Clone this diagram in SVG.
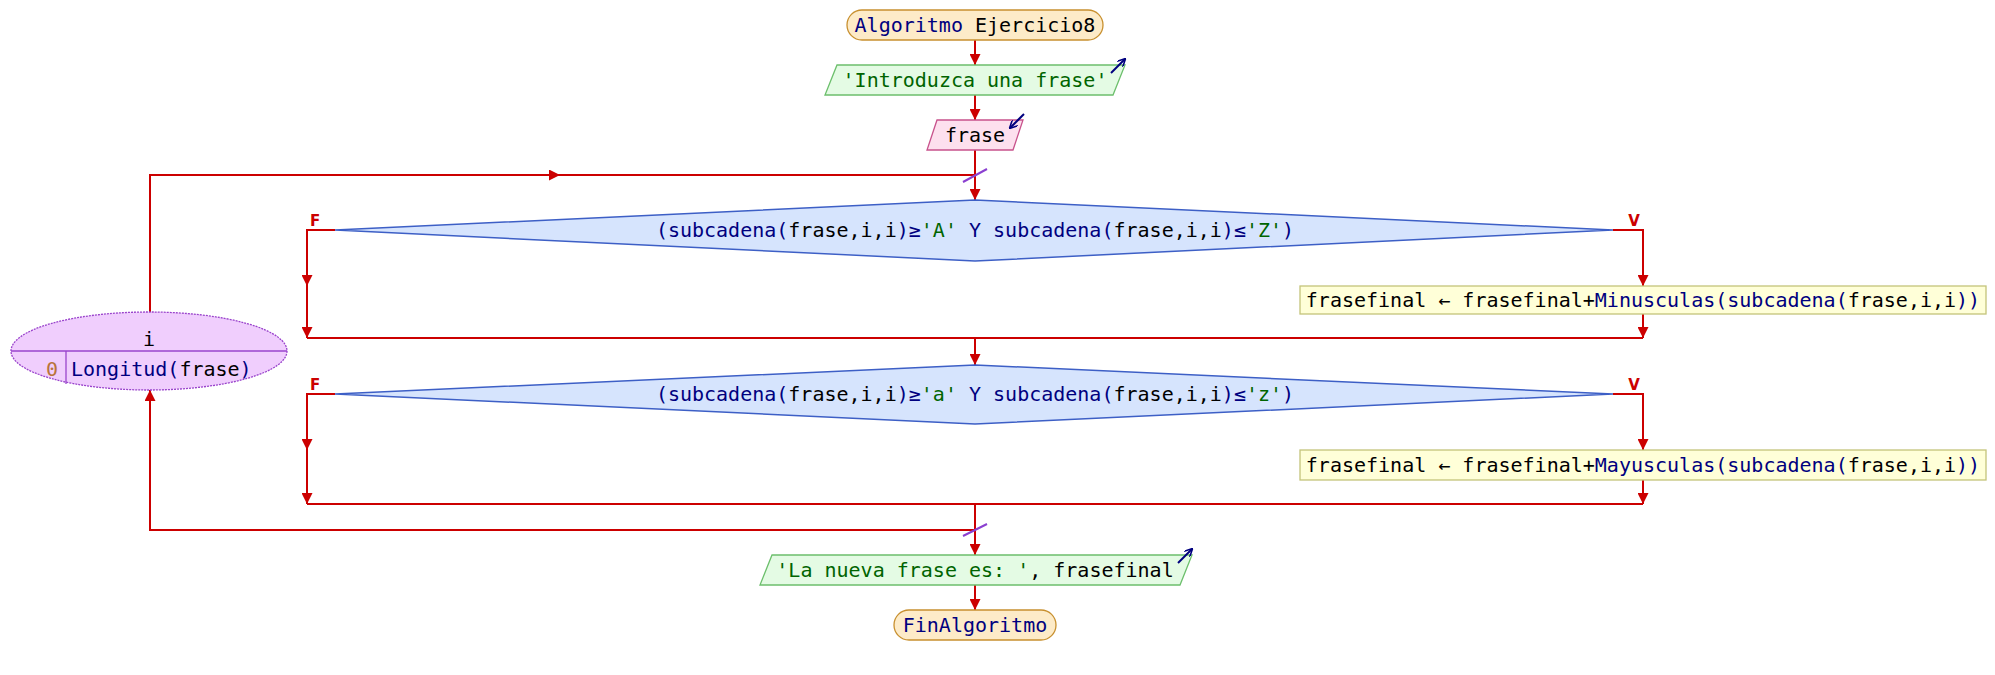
<svg xmlns="http://www.w3.org/2000/svg" width="1995" height="675" viewBox="0 0 1995 675">
<style>
text{font-family:"DejaVu Sans Mono","Liberation Mono",monospace;font-size:20px;fill:#000}
.kw{fill:#00007f}
.st{fill:#006400}
.nm{fill:#b8733a}
.lbl{font-family:"DejaVu Sans","Liberation Sans",sans-serif;font-size:15px;font-weight:bold;fill:#cc0000}
.c{fill:none;stroke:#cc0000;stroke-width:2}
.term{fill:#fdebc8;stroke:#c8902f;stroke-width:1.3}
.out{fill:#e4fbe4;stroke:#6cbf6c;stroke-width:1.3}
.inp{fill:#fde0ee;stroke:#c8528c;stroke-width:1.3}
.dia{fill:#d6e4fd;stroke:#3d5fc6;stroke-width:1.5}
.box{fill:#ffffd8;stroke:#c4c47a;stroke-width:1.3}
.loop{fill:#f0cefd;stroke:#9a44cc;stroke-width:1.3;stroke-dasharray:2 1}
.io{fill:none;stroke:#00007f;stroke-width:2}
.sl{stroke:#8a3fd0;stroke-width:2}
</style>
<defs>
<marker id="ah" viewBox="0 0 10 10" refX="10" refY="5" markerWidth="5.5" markerHeight="5.5" orient="auto" markerUnits="strokeWidth">
<path d="M0,0L10,5L0,10z" fill="#cc0000"/>
</marker>
<marker id="ih" viewBox="0 0 10 10" refX="9" refY="5" markerWidth="4" markerHeight="4" orient="auto" markerUnits="strokeWidth">
<path d="M0,0L10,5L0,10" fill="none" stroke="#00007f" stroke-width="2"/>
</marker>
</defs>
<g id="connectors">
<path class="c" d="M975,40V65" marker-end="url(#ah)"/>
<path class="c" d="M975,95V120" marker-end="url(#ah)"/>
<path class="c" d="M975,150V200" marker-end="url(#ah)"/>
<path class="c" d="M150,312V175H560" marker-end="url(#ah)"/>
<path class="c" d="M556,175H975"/>
<path class="c" d="M335,230H307V286" marker-end="url(#ah)"/>
<path class="c" d="M307,284V338" marker-end="url(#ah)"/>
<path class="c" d="M1613,230H1643V286" marker-end="url(#ah)"/>
<path class="c" d="M1643,314V338" marker-end="url(#ah)"/>
<path class="c" d="M307,338H1643"/>
<path class="c" d="M975,338V365" marker-end="url(#ah)"/>
<path class="c" d="M335,394H307V450" marker-end="url(#ah)"/>
<path class="c" d="M307,448V504" marker-end="url(#ah)"/>
<path class="c" d="M1613,394H1643V450" marker-end="url(#ah)"/>
<path class="c" d="M1643,480V504" marker-end="url(#ah)"/>
<path class="c" d="M307,504H1643"/>
<path class="c" d="M975,504V555" marker-end="url(#ah)"/>
<path class="c" d="M975,530H150V390" marker-end="url(#ah)"/>
<path class="c" d="M975,585V610" marker-end="url(#ah)"/>
<line class="sl" x1="963" y1="182" x2="987" y2="169"/>
<line class="sl" x1="963" y1="536" x2="987" y2="524"/>
<text class="lbl" x="315" y="226" text-anchor="middle">F</text>
<text class="lbl" x="1634" y="226" text-anchor="middle">V</text>
<text class="lbl" x="315" y="390" text-anchor="middle">F</text>
<text class="lbl" x="1634" y="390" text-anchor="middle">V</text>
</g>
<g id="start">
<rect class="term" x="847" y="10" width="256" height="30" rx="15"/>
<text x="975" y="32" text-anchor="middle"><tspan class="kw">Algoritmo</tspan> Ejercicio8</text>
</g>
<g id="output1">
<polygon class="out" points="837,65 1125,65 1113,95 825,95"/>
<text x="975" y="87" text-anchor="middle" class="st">'Introduzca una frase'</text>
<line class="io" x1="1111" y1="73" x2="1125" y2="59" marker-end="url(#ih)"/>
</g>
<g id="input1">
<polygon class="inp" points="937,120 1023,120 1013,150 927,150"/>
<text x="975" y="142" text-anchor="middle">frase</text>
<line class="io" x1="1024" y1="114" x2="1010" y2="128" marker-end="url(#ih)"/>
</g>
<g id="loop">
<ellipse class="loop" cx="149" cy="351" rx="138" ry="39"/>
<line x1="11" y1="351" x2="287" y2="351" stroke="#9a44cc" stroke-width="1.3"/>
<line x1="66" y1="351" x2="66" y2="384" stroke="#9a44cc" stroke-width="1.3"/>
<text x="149" y="346" text-anchor="middle">i</text>
<text x="46" y="376" class="nm">0</text>
<text x="71" y="376"><tspan class="kw">Longitud(</tspan>frase<tspan class="kw">)</tspan></text>
</g>
<g id="cond1">
<polygon class="dia" points="975,200 1613,230 975,261 335,230"/>
<text x="975" y="237" text-anchor="middle"><tspan class="kw">(subcadena(</tspan>frase,i,i<tspan class="kw">)≥</tspan><tspan class="st">'A'</tspan><tspan class="kw"> Y subcadena(</tspan>frase,i,i<tspan class="kw">)≤</tspan><tspan class="st">'Z'</tspan><tspan class="kw">)</tspan></text>
</g>
<g id="assign1">
<rect class="box" x="1300" y="286" width="686" height="28"/>
<text x="1643" y="307" text-anchor="middle">frasefinal ← frasefinal+<tspan class="kw">Minusculas(subcadena(</tspan>frase,i,i<tspan class="kw">))</tspan></text>
</g>
<g id="cond2">
<polygon class="dia" points="975,365 1613,394 975,424 335,394"/>
<text x="975" y="401" text-anchor="middle"><tspan class="kw">(subcadena(</tspan>frase,i,i<tspan class="kw">)≥</tspan><tspan class="st">'a'</tspan><tspan class="kw"> Y subcadena(</tspan>frase,i,i<tspan class="kw">)≤</tspan><tspan class="st">'z'</tspan><tspan class="kw">)</tspan></text>
</g>
<g id="assign2">
<rect class="box" x="1300" y="450" width="686" height="30"/>
<text x="1643" y="472" text-anchor="middle">frasefinal ← frasefinal+<tspan class="kw">Mayusculas(subcadena(</tspan>frase,i,i<tspan class="kw">))</tspan></text>
</g>
<g id="output2">
<polygon class="out" points="772,555 1192,555 1180,585 760,585"/>
<text x="975" y="577" text-anchor="middle"><tspan class="st">'La nueva frase es: '</tspan>, frasefinal</text>
<line class="io" x1="1178" y1="563" x2="1192" y2="549" marker-end="url(#ih)"/>
</g>
<g id="end">
<rect class="term" x="894" y="610" width="162" height="30" rx="15"/>
<text x="975" y="632" text-anchor="middle" class="kw">FinAlgoritmo</text>
</g>
</svg>
